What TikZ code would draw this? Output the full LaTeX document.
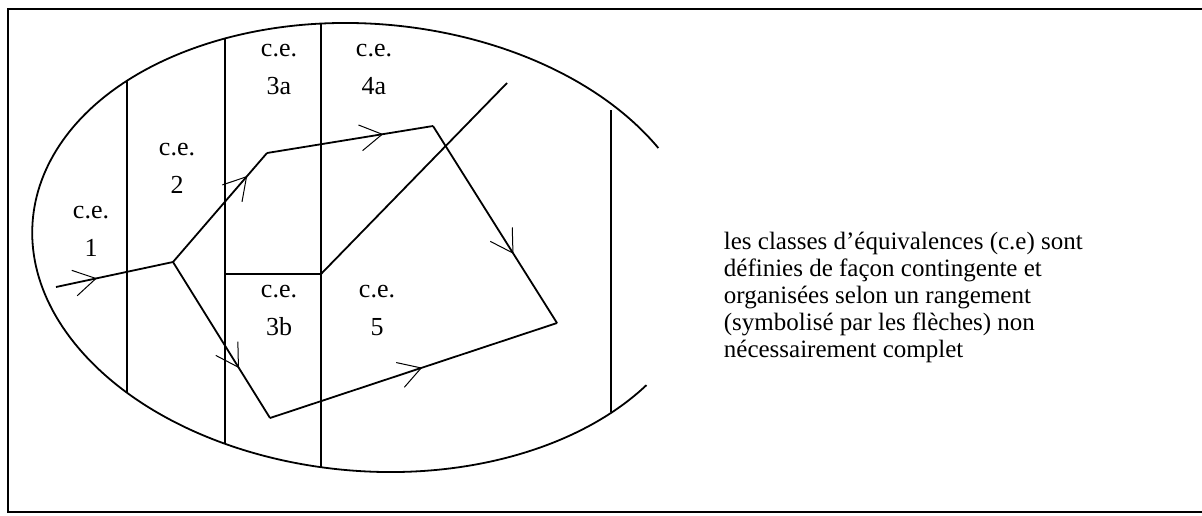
\documentclass[tikz,border=0pt]{standalone}
\usepackage{fontspec}
\setmainfont{Liberation Serif}
\usetikzlibrary{arrows.meta,decorations.markings}

\tikzset{
  ce/.style={align=center, inner sep=0pt, font=\fontsize{13}{19}\selectfont},
  note/.style={align=left, inner sep=0pt, anchor=north west, font=\fontsize{12.5}{13.5}\selectfont},
  midarrow/.style={postaction={decorate}, decoration={markings,
      mark=at position #1 with {\arrow[line width=0.5pt]{Straight Barb[length=11pt,width=13pt]}}}}
}

\begin{document}
\begin{tikzpicture}[x=0.5pt, y=-0.5pt, line width=0.9pt]
\useasboundingbox (0,0) rectangle (1202,515);
% cadre
\draw (1202,9) -- (8,9) -- (8,512) -- (1202,512);
% ellipse ouverte
\begin{scope}[shift={(368,247.5)}, xslant=-0.1]
  \draw (-26.3:335 and 224.5) arc[start angle=-26.3, end angle=-322.2, x radius=335, y radius=224.5];
\end{scope}
% frontieres des classes
\coordinate (t1) at (127,80.5); \coordinate (b1) at (127,392.5);
\coordinate (t2) at (225,38.5); \coordinate (b2) at (225,443.5);
\coordinate (t3) at (321,23.5); \coordinate (b3) at (321,467);
\coordinate (t4) at (611,110);  \coordinate (b4) at (611,412);
\coordinate (h3) at (225,274); \coordinate (k) at (321,274);
\coordinate (e) at (507,83);
\draw (t1) -- (b1);
\draw (t2) -- (b2);
\draw (t3) -- (b3);
\draw (t4) -- (b4);
\draw (h3) -- (k);
\draw (k) -- (e);
% rangement
\coordinate (in) at (56,287);
\coordinate (n) at (173,262);
\coordinate (a) at (267,153);
\coordinate (b) at (433,126);
\coordinate (c) at (557,323);
\coordinate (d) at (270,418);
\draw[midarrow=0.35] (in) -- (n);
\draw[midarrow=0.79] (n) -- (a);
\draw[midarrow=0.70] (a) -- (b);
\draw[midarrow=0.65] (b) -- (c);
\draw[midarrow=0.68] (n) -- (d);
\draw[midarrow=0.53] (d) -- (c);
% etiquettes
\node[ce] (ce1) at (91,231) {c.e.\\1};
\node[ce] (ce2) at (177,168) {c.e.\\2};
\node[ce] (ce3a) at (279,69) {c.e.\\3a};
\node[ce] (ce4a) at (374,69) {c.e.\\4a};
\node[ce] (ce3b) at (279,310) {c.e.\\3b};
\node[ce] (ce5) at (377,310) {c.e.\\5};
\node[note] (txt) at (723,231) {les classes d’équivalences (c.e) sont\\
  définies de façon contingente et\\
  organisées selon un rangement\\
  (symbolisé par les flèches) non\\
  nécessairement complet};
\end{tikzpicture}
\end{document}
